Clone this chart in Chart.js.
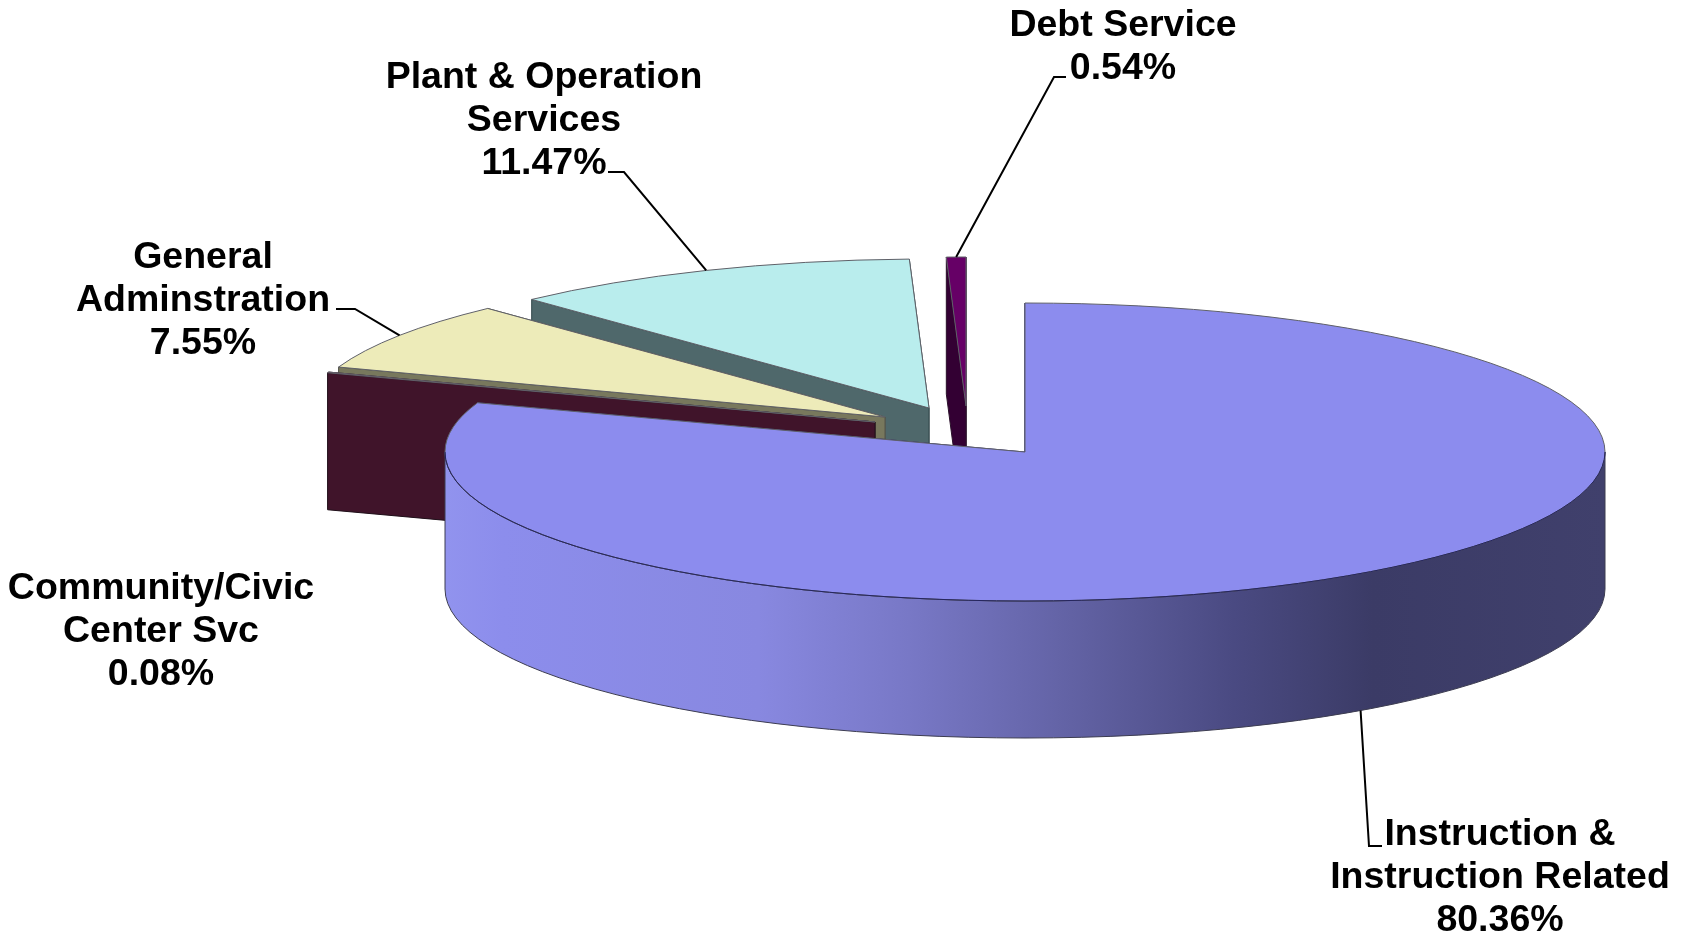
<!DOCTYPE html>
<html>
<head>
<meta charset="utf-8">
<title>Expenditures by function</title>
<script src="https://cdn.jsdelivr.net/npm/chart.js@4"></script>
<style>
  html, body { margin: 0; padding: 0; background: #ffffff; }
  canvas { display: block; }
</style>
</head>
<body>
<canvas id="chartCanvas" width="1686" height="937"></canvas>
<script>
// Slice names, one entry per label line
const categories = [
  ['Instruction &', 'Instruction Related'],
  ['Community/Civic', 'Center Svc'],
  ['General', 'Adminstration'],
  ['Plant & Operation', 'Services'],
  ['Debt Service']
];
const percents = [80.36, 0.08, 7.55, 11.47, 0.54];

// Colours
const topColors = ['#8c8cee', '#802a54', '#edebb9', '#b9eded', '#660066'];
const wallColors = ['#8c8cee', '#40142a', '#78785d', '#4f686b', '#330033'];
const edgeColors = ['#24245e', '#20101a', '#55554a', '#33474a', '#2a102a'];
const sideStops = [
  [0, '#9193ee'], [0.05, '#8c8dec'], [0.27, '#8888e0'], [0.4, '#7878c6'],
  [0.54, '#6262a4'], [0.68, '#4a4a82'], [0.8, '#3b3b66'], [1, '#40406c']
];

// Projection of the flat pie onto the page
const pieCenterX = 1025;
const pieCenterY = 452;
const pieRadiusX = 580;
const pieRadiusY = 149;
const pieDepth = 137;
const explodeX = [0, -150, -140, -96, -59];
const explodeY = [0, -30, -35, -44, -46];

// Label blocks: centre x, first line centre y
const labelX = [1500, 161, 203, 544, 1123];
const labelY = [835, 589, 258, 78, 26];
const lineHeight = 43;
// Leader lines: start next to the label, then elbow, then the slice
const leaderStartX = [1382, null, 336, 608, 1066];
const leaderStartY = [846, null, 309, 172, 77];
const leaderElbowX = [1369, null, 355, 624, 1054];
const leaderElbowY = [846, null, 309, 172, 77];

function slicePlace(arc, i) {
  return {
    x: pieCenterX + explodeX[i],
    y: pieCenterY + explodeY[i],
    x0: arc.startAngle,
    x1: arc.endAngle
  };
}

function rimPoint(place, angle) {
  return [
    place.x + Math.cos(angle) * pieRadiusX,
    place.y + Math.sin(angle) * pieRadiusY
  ];
}

function drawFlatWall(ctx, place, angle, color, edge) {
  const rim = rimPoint(place, angle);
  ctx.beginPath();
  ctx.moveTo(place.x, place.y);
  ctx.lineTo(rim[0], rim[1]);
  ctx.lineTo(rim[0], rim[1] + pieDepth);
  ctx.lineTo(place.x, place.y + pieDepth);
  ctx.closePath();
  ctx.fillStyle = color;
  ctx.fill();
  ctx.strokeStyle = edge;
  ctx.stroke();
}

function drawOuterWall(ctx, place) {
  // only the part of the rim that faces the viewer
  const from = Math.max(place.x0, 0);
  const to = Math.min(place.x1, Math.PI);
  if (to <= from) return;
  const grad = ctx.createLinearGradient(place.x - pieRadiusX, 0, place.x + pieRadiusX, 0);
  sideStops.forEach(s => grad.addColorStop(s[0], s[1]));
  ctx.beginPath();
  ctx.ellipse(place.x, place.y, pieRadiusX, pieRadiusY, 0, from, to);
  ctx.ellipse(place.x, place.y + pieDepth, pieRadiusX, pieRadiusY, 0, to, from, true);
  ctx.closePath();
  ctx.fillStyle = grad;
  ctx.fill();
  ctx.strokeStyle = '#3c3c50';
  ctx.stroke();
}

function drawTop(ctx, arc, place, edge) {
  // let the arc element fill itself, squeezed into an ellipse
  ctx.save();
  ctx.translate(place.x, place.y);
  ctx.scale(pieRadiusX / arc.outerRadius, pieRadiusY / arc.outerRadius);
  ctx.translate(-arc.x, -arc.y);
  arc.draw(ctx);
  ctx.restore();

  ctx.beginPath();
  ctx.moveTo(place.x, place.y);
  ctx.ellipse(place.x, place.y, pieRadiusX, pieRadiusY, 0, place.x0, place.x1);
  ctx.closePath();
  ctx.strokeStyle = '#5f6068';
  ctx.stroke();

  // the front edge of the top reads darker than the rest of the outline
  const from = Math.max(place.x0, 0);
  const to = Math.min(place.x1, Math.PI);
  if (to > from) {
    ctx.beginPath();
    ctx.ellipse(place.x, place.y, pieRadiusX, pieRadiusY, 0, from, to);
    ctx.strokeStyle = edge;
    ctx.stroke();
  }
}

function drawLeader(ctx, place, i) {
  if (leaderStartX[i] === null) return;
  const mid = (place.x0 + place.x1) / 2;
  const end = rimPoint(place, mid);
  // a slice whose middle faces the viewer is met at the bottom of its wall
  if (Math.sin(mid) > 0) end[1] += pieDepth;
  ctx.beginPath();
  ctx.moveTo(leaderStartX[i], leaderStartY[i]);
  ctx.lineTo(leaderElbowX[i], leaderElbowY[i]);
  ctx.lineTo(end[0], end[1]);
  ctx.strokeStyle = '#000000';
  ctx.lineWidth = 2;
  ctx.stroke();
  ctx.lineWidth = 1;
}

function drawLabel(ctx, i) {
  const lines = categories[i].concat(percents[i].toFixed(2) + '%');
  ctx.fillStyle = '#000000';
  ctx.font = 'bold 37.5px "Liberation Sans", Arial, sans-serif';
  ctx.textAlign = 'center';
  ctx.textBaseline = 'middle';
  lines.forEach((line, n) => {
    ctx.fillText(line, labelX[i], labelY[i] + n * lineHeight);
  });
}

const pie3d = {
  id: 'pie3d',
  beforeDatasetDraw(chart, args) {
    const ctx = chart.ctx;
    const arcs = args.meta.data;
    ctx.save();
    ctx.lineWidth = 1;
    // paint from the far slices to the near one
    for (let i = arcs.length - 1; i >= 0; i--) {
      const place = slicePlace(arcs[i], i);
      drawFlatWall(ctx, place, place.x1, wallColors[i], edgeColors[i]);
      drawFlatWall(ctx, place, place.x0, wallColors[i], edgeColors[i]);
      drawOuterWall(ctx, place);
      drawTop(ctx, arcs[i], place, edgeColors[i]);
    }
    arcs.forEach((arc, i) => {
      drawLeader(ctx, slicePlace(arc, i), i);
      drawLabel(ctx, i);
    });
    ctx.restore();
    return false; // already drawn above
  }
};

new Chart(document.getElementById('chartCanvas').getContext('2d'), {
  type: 'pie',
  data: {
    labels: categories.map(c => c.join(' ')),
    datasets: [{
      data: percents,
      backgroundColor: topColors,
      borderWidth: 0
    }]
  },
  options: {
    responsive: false,
    animation: false,
    events: [],
    plugins: {
      legend: { display: false },
      tooltip: { enabled: false }
    }
  },
  plugins: [pie3d]
});
</script>
</body>
</html>
